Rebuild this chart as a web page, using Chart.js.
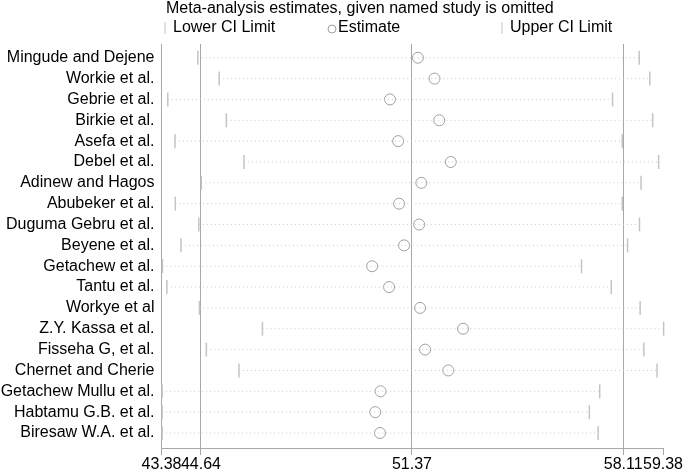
<!DOCTYPE html>
<html>
<head>
<meta charset="utf-8">
<script src="https://cdn.jsdelivr.net/npm/chart.js@4/dist/chart.umd.min.js"></script>
<style>
  html, body { margin: 0; padding: 0; background: #fff; }
  #wrap { width: 685px; height: 471px; position: relative; }
</style>
</head>
<body>
<div id="wrap"><canvas id="myChart"></canvas></div>
<script>
const studies = ['Mingude and Dejene', 'Workie et al.', 'Gebrie et al.', 'Birkie et al.', 'Asefa et al.',
	'Debel et al.', 'Adinew and Hagos', 'Abubeker et al.', 'Duguma Gebru et al.', 'Beyene et al.',
	'Getachew et al.', 'Tantu et al.', 'Workye et al', 'Z.Y. Kassa et al.', 'Fisseha G, et al.',
	'Chernet and Cherie', 'Getachew Mullu et al.', 'Habtamu G.B. et al.', 'Biresaw W.A. et al.'];
const lowerCI = [44.54, 45.22, 43.58, 45.45, 43.81, 46.01, 44.65, 43.82, 44.57, 44.00,
	43.41, 43.55, 44.59, 46.60, 44.81, 45.85, 43.40, 43.40, 43.40];
const estimate = [51.56, 52.09, 50.67, 52.24, 50.93, 52.61, 51.67, 50.96, 51.60, 51.12,
	50.10, 50.64, 51.63, 53.00, 51.79, 52.53, 50.37, 50.20, 50.35];
const upperCI = [58.62, 58.96, 57.77, 59.05, 58.08, 59.24, 58.68, 58.08, 58.63, 58.25,
	56.78, 57.73, 58.65, 59.40, 58.77, 59.19, 57.36, 57.03, 57.31];
const xTicks = [43.38, 44.64, 51.37, 58.11, 59.38];

const FONT = 'Liberation Sans, Arial, sans-serif';
const tickGray = '#c4c4c4';
const lineGray = '#a8a8a8';

// dotted line for every study, lower to upper
const ciLines = studies.map((s, i) => ({
	type: 'line',
	label: s,
	data: [{ x: lowerCI[i], y: i }, { x: upperCI[i], y: i }],
	showLine: true,
	borderColor: '#c8c8c8',
	borderWidth: 1,
	borderDash: [1, 3],
	pointRadius: 0,
	clip: false
}));

const marks = [{
	label: 'Lower CI Limit',
	data: lowerCI.map((v, i) => ({ x: v, y: i })),
	pointStyle: 'line',
	rotation: 90,
	pointRadius: 7,
	borderColor: tickGray,
	borderWidth: 1.5,
	clip: false
}, {
	label: 'Estimate',
	data: estimate.map((v, i) => ({ x: v, y: i })),
	pointStyle: 'circle',
	pointRadius: 5.5,
	borderColor: '#a0a0a0',
	backgroundColor: 'rgba(255,255,255,0)',
	borderWidth: 1
}, {
	label: 'Upper CI Limit',
	data: upperCI.map((v, i) => ({ x: v, y: i })),
	pointStyle: 'line',
	rotation: 90,
	pointRadius: 7,
	borderColor: tickGray,
	borderWidth: 1.5,
	clip: false
}];

// title and legend drawn in fixed columns like the original
const headerPlugin = {
	id: 'header',
	afterDraw(chart) {
		const c = chart.ctx;
		c.save();
		c.fillStyle = '#000';
		c.font = '16px ' + FONT;
		c.textBaseline = 'middle';
		c.textAlign = 'left';
		c.fillText('Meta-analysis estimates, given named study is omitted', 166, 9);
		const y = 28;
		c.strokeStyle = tickGray;
		c.lineWidth = 1;
		[165, 502].forEach(x => {
			c.beginPath(); c.moveTo(x, y - 6); c.lineTo(x, y + 6); c.stroke();
		});
		c.strokeStyle = '#a0a0a0';
		c.beginPath(); c.arc(332, y + 1, 4, 0, Math.PI * 2); c.stroke();
		c.fillText(marks[0].label, 173, y);
		c.fillText(marks[1].label, 338, y);
		c.fillText(marks[2].label, 510, y);
		c.restore();
	}
};

new Chart(document.getElementById('myChart'), {
	type: 'scatter',
	data: { datasets: [...ciLines, ...marks] },
	options: {
		responsive: true,
		maintainAspectRatio: false,
		animation: false,
		layout: { padding: { top: 44, right: 22, left: 0, bottom: 0 } },
		plugins: {
			legend: { display: false },
			tooltip: { enabled: false }
		},
		scales: {
			x: {
				type: 'linear',
				min: 43.38,
				max: 59.38,
				afterBuildTicks: s => { s.ticks = xTicks.map(v => ({ value: v })); },
				afterFit: s => { s.height = 23; },
				border: { display: true, color: lineGray },
				grid: {
					display: true,
					color: ctx => (ctx.tick && ctx.tick.value === 59.38 ? 'rgba(0,0,0,0)' : lineGray),
					tickColor: lineGray,
					tickLength: 7,
					drawTicks: true
				},
				ticks: {
					autoSkip: false,
					maxRotation: 0,
					padding: 0,
					color: '#000',
					font: { family: FONT, size: 16 },
					callback: v => v.toFixed(2)
				}
			},
			y: {
				type: 'linear',
				reverse: true,
				min: -0.66,
				max: 18.72,
				afterBuildTicks: s => { s.ticks = studies.map((_, i) => ({ value: i })); },
				afterFit: s => { s.width = 161.5; },
				border: { display: false },
				grid: { display: false, drawTicks: false },
				ticks: {
					autoSkip: false,
					padding: 7,
					color: '#000',
					font: { family: FONT, size: 16 },
					callback: v => studies[v]
				}
			}
		}
	},
	plugins: [headerPlugin]
});
</script>
</body>
</html>
